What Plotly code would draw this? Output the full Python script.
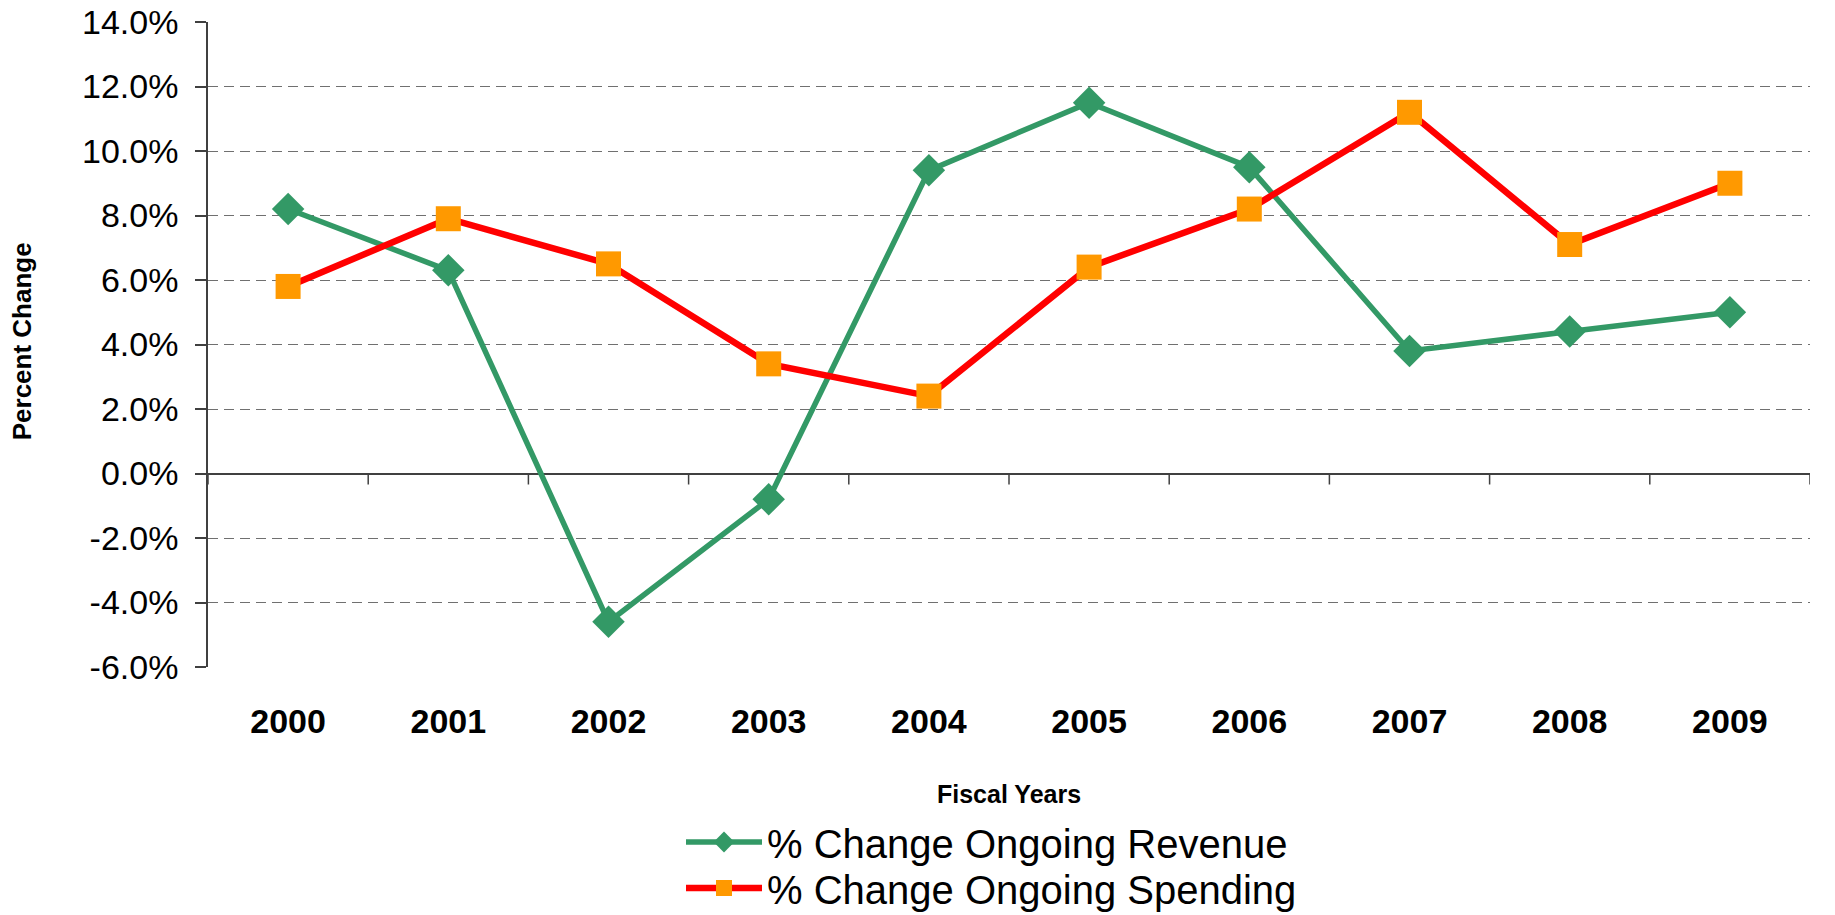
import plotly.graph_objects as go

years = ["2000", "2001", "2002", "2003", "2004", "2005", "2006", "2007", "2008", "2009"]
revenue = [8.2, 6.3, -4.6, -0.8, 9.4, 11.5, 9.5, 3.8, 4.4, 5.0]
spending = [5.8, 7.9, 6.5, 3.4, 2.4, 6.4, 8.2, 11.2, 7.1, 9.0]
y_ticks = [-6, -4, -2, 0, 2, 4, 6, 8, 10, 12, 14]

FONT = "Liberation Sans, Arial, sans-serif"

fig = go.Figure()
fig.add_trace(go.Scatter(
    x=years, y=revenue, name="% Change Ongoing Revenue",
    mode="lines+markers", legend="legend",
    line=dict(color="#339966", width=5.5),
    marker=dict(symbol="diamond", size=25, color="#339966"),
))
fig.add_trace(go.Scatter(
    x=years, y=spending, name="% Change Ongoing Spending",
    mode="lines+markers", legend="legend2",
    line=dict(color="#FF0000", width=6.5),
    marker=dict(symbol="square", size=25, color="#FF9900"),
))

# tick marks on the zero line at category boundaries
for i in range(len(years) + 1):
    fig.add_shape(type="line", xref="x", yref="y",
                  x0=i - 0.5, x1=i - 0.5,
                  ysizemode="pixel", yanchor=0, y0=0, y1=-11,
                  line=dict(color="#404040", width=1.5))

leg_common = dict(
    orientation="v", xanchor="left", yanchor="middle",
    font=dict(family=FONT, size=40, color="black"),
    bgcolor="rgba(0,0,0,0)", itemwidth=76,
)

fig.update_layout(
    width=1835, height=915,
    margin=dict(l=208, r=25, t=22, b=248, autoexpand=False),
    paper_bgcolor="white", plot_bgcolor="white",
    font=dict(family=FONT, color="black"),
    showlegend=True,
    legend=dict(leg_common, x=(681 - 208) / 1602, y=(667 - 842) / 645),
    legend2=dict(leg_common, x=(681 - 208) / 1602, y=(667 - 888) / 645),
    xaxis=dict(
        type="category", range=[-0.5, len(years) - 0.5], automargin=False,
        showgrid=False, zeroline=False,
        showline=True, linecolor="white", linewidth=2, mirror=True,
        ticks="", ticklabelstandoff=23,
        tickfont=dict(family=FONT, size=34, weight="bold", color="black"),
    ),
    yaxis=dict(
        range=[-6, 14], tickvals=y_ticks, automargin=False,
        ticktext=[f"{v:.1f}%" for v in y_ticks],
        ticklabeloverflow="allow",
        showgrid=True, gridcolor="#707070", gridwidth=1.3, griddash="10px,6px",
        zeroline=True, zerolinecolor="#404040", zerolinewidth=1.5,
        showline=True, linecolor="#404040", linewidth=1.5,
        ticks="outside", ticklen=11, tickcolor="#404040", tickwidth=1.5,
        ticklabelstandoff=10,
        tickfont=dict(family=FONT, size=34, color="black"),
    ),
    annotations=[
        dict(text="Percent Change", xref="paper", yref="paper",
             x=(22 - 208) / 1602, y=0.505, xanchor="center", yanchor="middle",
             textangle=-90, showarrow=False,
             font=dict(family=FONT, size=26, weight="bold", color="black")),
        dict(text="Fiscal Years", xref="paper", yref="paper",
             x=0.5, y=(667 - 794) / 645,
             xanchor="center", yanchor="middle", showarrow=False,
             font=dict(family=FONT, size=25, weight="bold", color="black")),
    ],
)

# remove the default 8px page margin so the figure fills the window exactly
fig.write_html("out.html", config={"displayModeBar": False},
               post_script="document.body.style.margin='0px';")
